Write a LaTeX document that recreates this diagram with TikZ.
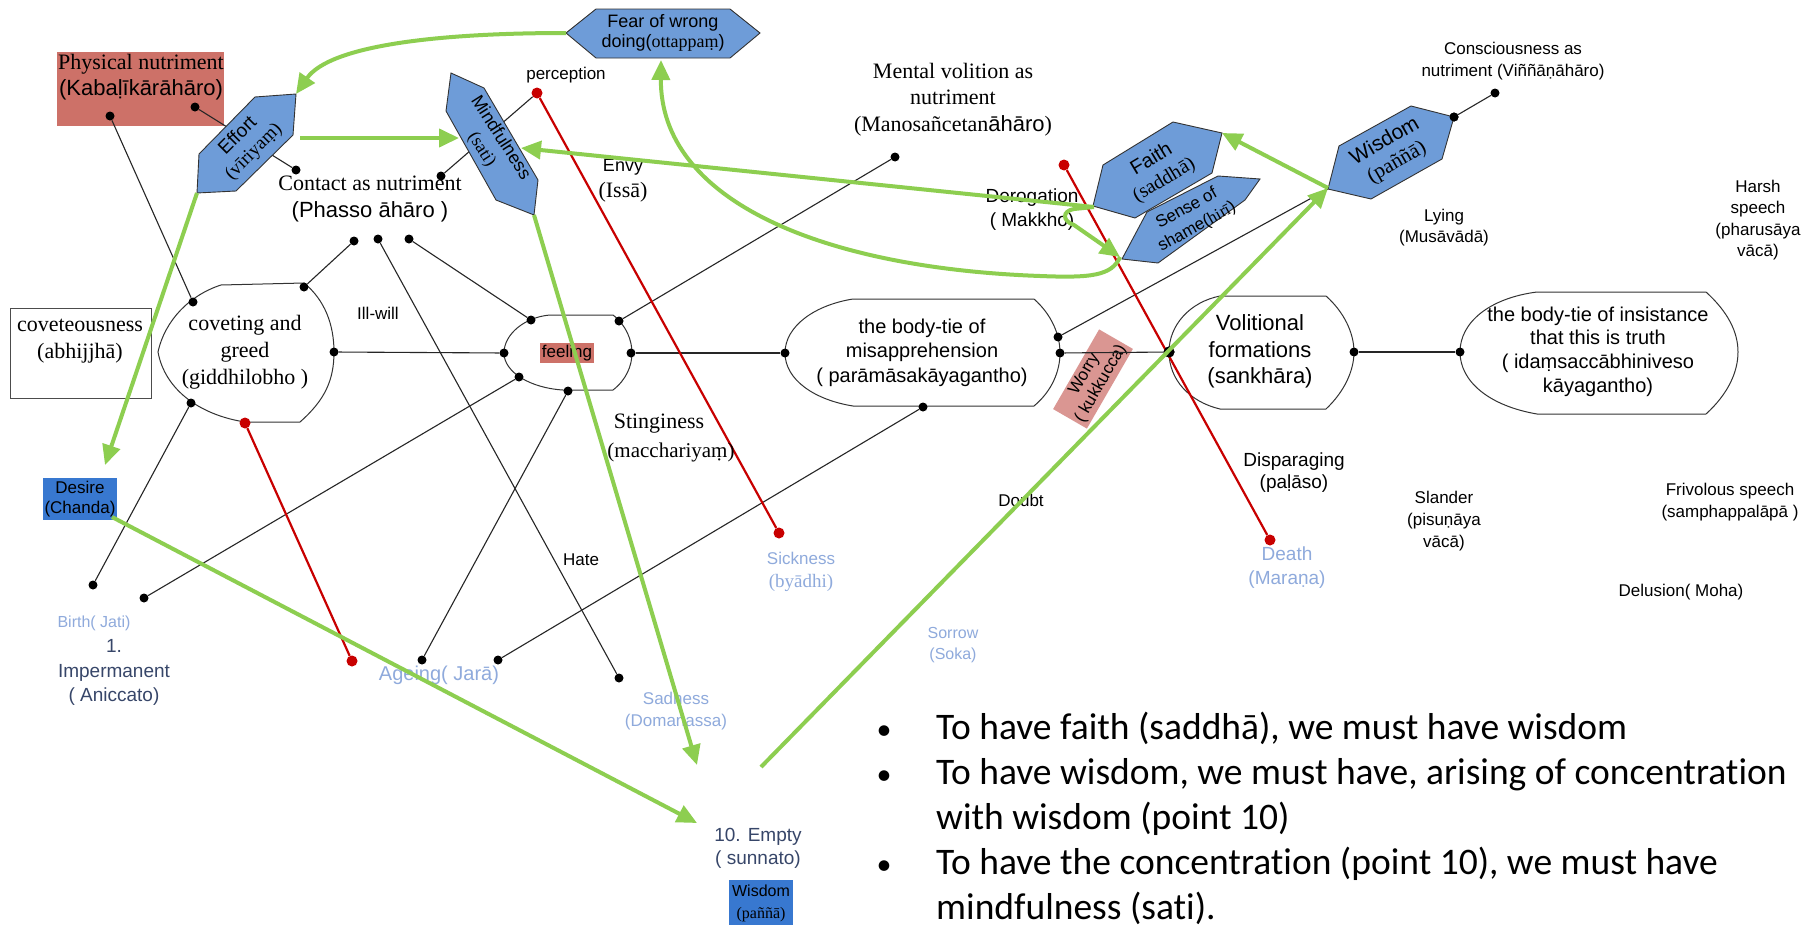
\documentclass[tikz,border=0pt]{standalone}
\usepackage{fontspec}
\setmainfont{Liberation Serif}
\setsansfont{Liberation Sans}
\newfontfamily\calfont[RawFeature=-liga]{Carlito}
\usetikzlibrary{arrows.meta}
\definecolor{hexblue}{RGB}{110,156,216}
\definecolor{salm}{RGB}{205,113,104}
\definecolor{worryc}{RGB}{218,150,146}
\definecolor{desblue}{RGB}{56,120,208}
\definecolor{greenc}{RGB}{141,206,80}
\definecolor{redc}{RGB}{200,0,0}
\definecolor{ltblue}{RGB}{143,170,220}
\definecolor{slate}{RGB}{55,70,105}
\newcommand{\sfz}[2]{\sffamily\fontsize{#1}{#2}\selectfont}
\newcommand{\rmz}[2]{\rmfamily\fontsize{#1}{#2}\selectfont}
\begin{document}
\begin{tikzpicture}[x=1pt,y=-1pt,
  lb/.style={inner sep=0pt, align=center},
  bdot/.style={circle, fill=black, inner sep=0pt, minimum size=9pt},
  rdotst/.style={circle, fill=redc, inner sep=0pt, minimum size=11pt},
  blk/.style={draw=black!85, line width=1.1pt},
  redl/.style={draw=redc, line width=2.2pt},
  grn/.style={draw=greenc, line width=4pt, -{Triangle[length=20pt,width=18pt]}},
  hexa/.style={draw=black!80, fill=hexblue, line width=0.9pt},
  shp/.style={draw=black!80, line width=1pt, fill=white}]
\useasboundingbox (0,0) rectangle (1816,926);
\fill[white] (0,0) rectangle (1816,926);

% ---------- boxes ----------
\fill[salm] (57,52) rectangle (224,126);
\draw[draw=black!70, line width=1pt] (10,308) rectangle (151,398);
\fill[desblue] (43,478) rectangle (117,520);
\fill[desblue] (729,880) rectangle (793,925);
\node[fill=worryc, rotate=60, minimum width=92pt, minimum height=39pt, inner sep=0pt, align=center, font={\sfz{17}{19}}] (worry) at (1093,379) {Worry\\( kukkucca)};

% ---------- shapes ----------
\draw[shp] (221,285) -- (304,283) .. controls (325,300) and (334,325) .. (334,352) .. controls (334,380) and (325,400) .. (300,422) -- (245,422) .. controls (200,415) and (165,390) .. (158,352) .. controls (165,320) and (190,295) .. (221,285);
\draw[shp] (550,315) -- (613,315) .. controls (626,325) and (632,340) .. (632,353) .. controls (632,366) and (626,380) .. (613,390) -- (563,390) .. controls (530,388) and (504,372) .. (504,353) .. controls (504,334) and (525,317) .. (550,315);
\draw[shp] (853,299) -- (1034,299) .. controls (1052,315) and (1060,335) .. (1060,353) .. controls (1060,371) and (1052,391) .. (1034,406) -- (853,406) .. controls (815,400) and (785,380) .. (785,353) .. controls (785,326) and (815,305) .. (853,299);
\draw[shp] (1220,296) -- (1326,296) .. controls (1344,312) and (1354,333) .. (1354,352) .. controls (1354,371) and (1344,392) .. (1326,409) -- (1220,409) .. controls (1190,402) and (1169,380) .. (1169,352) .. controls (1169,325) and (1190,302) .. (1220,296);
\draw[shp] (1537,292) -- (1706,292) .. controls (1728,312) and (1738,332) .. (1738,352) .. controls (1738,372) and (1728,394) .. (1706,414) -- (1537,414) .. controls (1490,406) and (1460,382) .. (1460,352) .. controls (1460,322) and (1490,298) .. (1537,292);
\node[fill=salm, inner xsep=1.5pt, inner ysep=2pt, font={\sfz{17}{19}}] (tfeel) at (567,353) {feeling};

% ---------- dots ----------
\node[bdot] (pd1) at (110,116) {};
\node[bdot] (pd2) at (195,107) {};
\node[bdot] (ed) at (296,170) {};
\node[bdot] (cd1) at (354,241) {};
\node[bdot] (cd2) at (378,239) {};
\node[bdot] (cd3) at (409,239) {};
\node[bdot] (md) at (441,176) {};
\node[bdot] (cv1) at (193,302) {};
\node[bdot] (cv2) at (304,287) {};
\node[bdot] (cv3) at (334,352) {};
\node[bdot] (cv4) at (191,403) {};
\node[bdot] (f1) at (531,320) {};
\node[bdot] (f2) at (504,353) {};
\node[bdot] (f3) at (519,377) {};
\node[bdot] (f4) at (568,391) {};
\node[bdot] (f5) at (619,321) {};
\node[bdot] (f6) at (631,353) {};
\node[bdot] (mv) at (895,157) {};
\node[bdot] (b1) at (785,353) {};
\node[bdot] (b2) at (1058,337) {};
\node[bdot] (b3) at (1060,353) {};
\node[bdot] (b4) at (923,407) {};
\node[bdot, minimum size=11pt] (v1) at (1169,352) {};
\node[bdot] (v2) at (1354,352) {};
\node[bdot] (i1) at (1460,352) {};
\node[bdot] (wd) at (1454,117) {};
\node[bdot] (cs) at (1495,93) {};
\node[bdot] (bd1) at (93,585) {};
\node[bdot] (bd2) at (144,598) {};
\node[bdot] (bd3) at (422,660) {};
\node[bdot] (bd4) at (498,660) {};
\node[bdot] (bd5) at (619,678) {};
\node[rdotst] (rp) at (537,93) {};
\node[rdotst] (cvr) at (245,423) {};
\node[rdotst] (rb) at (352,661) {};
\node[rdotst] (rs) at (779,533) {};
\node[rdotst] (rd) at (1064,165) {};
\node[rdotst] (rdeath) at (1270,540) {};
\coordinate (wisLV) at (1328,189);

% ---------- black lines ----------
\draw[blk] (pd1) -- (cv1);
\draw[blk] (pd2) -- (ed);
\draw[blk] (rp) -- (md);
\draw[blk] (cv2) -- (cd1);
\draw[blk] (cd2) -- (bd5);
\draw[blk] (cd3) -- (f1);
\draw[blk] (cv3) -- (f2);
\draw[blk] (cv4) -- (bd1);
\draw[blk] (f3) -- (bd2);
\draw[blk] (f4) -- (bd3);
\draw[blk] (f5) -- (mv);
\draw[blk] (f6) -- (b1);
\draw[blk] (b4) -- (bd4);
\draw[blk] (b2) -- (wisLV);
\draw[blk] (b3) -- (v1);
\draw[blk] (v2) -- (i1);
\draw[blk] (wd) -- (cs);

% ---------- red lines ----------
\draw[redl] (cvr) -- (rb);
\draw[redl] (rp) -- (rs);
\draw[redl] (rd) -- (rdeath);
\fill[black] (v1) circle (5.5pt);

% ---------- hexagons ----------
\draw[hexa] (566,33) -- (596,9) -- (730,9) -- (760,33) -- (730,58) -- (596,58) -- cycle;
\node[lb, font={\sfz{18}{20}}] (tfear) at (663,33) {Fear of wrong\\doing({\rmfamily ottappaṃ})};
\draw[hexa] (255,97) -- (296,94) -- (293,135) -- (236,191) -- (197,193) -- (199,154) -- cycle;
\node[lb, rotate=45, font={\sfz{19}{22}}] (teff) at (246,144) {Effort\\{\rmfamily (vīriyaṃ)}};
\draw[hexa] (451,73) -- (484,88) -- (538,180) -- (534,215) -- (496,200) -- (446,111) -- cycle;
\node[lb, rotate=-57.5, font={\sfz{18}{22}}] (tmind) at (491,144) {Mindfulness\\{\rmfamily (sati)}};
\draw[hexa] (1103,165) -- (1173,122) -- (1222,133) -- (1212,173) -- (1135,218) -- (1093,206) -- cycle;
\node[lb, rotate=31, font={\sfz{20}{24}}] (tfaith) at (1158,170) {Faith\\{\rmfamily (saddhā)}};
\draw[hexa] (1147,212) -- (1218,176) -- (1260,179) -- (1245,200) -- (1158,263) -- (1122,259) -- cycle;
\node[lb, rotate=29, font={\sfz{17}{21}}] (tshame) at (1192,218) {Sense of\\shame({\rmfamily hirī})};
\draw[hexa] (1411,106) -- (1454,117) -- (1442,159) -- (1371,199) -- (1328,189) -- (1339,146) -- cycle;
\node[lb, rotate=30, font={\sfz{21}{24}}] (twis) at (1391,152) {Wisdom\\{\rmfamily (paññā)}};
\fill[black] (wd) circle (4.5pt);

% ---------- labels ----------
\node[lb, font={\rmz{22}{26}}] (tphys) at (141,77) {Physical nutriment\\{\sffamily (Kabaḷīkārāhāro)}};
\node[lb, font={\rmz{22}{27}}] (tcovs) at (80,341.5) {coveteousness\\(abhijjhā)};
\node[lb, font={\sfz{17}{20}}] (tdes) at (80,499.5) {Desire\\(Chanda)};
\node[lb, font={\sfz{16}{22}}] (twbox) at (761,903) {Wisdom\\{\rmfamily (paññā)}};
\node[lb, font={\sfz{17}{20}}] (tperc) at (566,75) {perception};
\node[lb, font={\rmz{22}{27}}] (tcont) at (370,198.5) {Contact as nutriment\\{\sffamily (Phasso āhāro )}};
\node[lb, font={\sfz{18}{20}}] (tenvy) at (623,167) {Envy};
\node[lb, font={\rmz{22}{24}}] (tissa) at (623,192) {(Issā)};
\node[lb, font={\rmz{22}{26.5}}] (tmental) at (953,99.5) {Mental volition as\\nutriment\\(Manosañcetan{\sffamily āhāro})};
\node[lb, font={\sfz{17}{22}}] (tcons) at (1513,61) {Consciousness as\\nutriment (Viññāṇāhāro)};
\node[lb, font={\sfz{19}{24}}] (tderog) at (1032,210) {Derogation\\( Makkho)};
\node[lb, font={\sfz{17}{21}}] (tlying) at (1444,227.5) {Lying\\(Musāvādā)};
\node[lb, font={\sfz{17}{21.3}}] (tharsh) at (1758,220) {Harsh\\speech\\(pharusāya\\vācā)};
\node[lb, font={\sfz{17}{20}}] (tillw) at (378,313) {Ill-will};
\node[lb, font={\rmz{22}{27}}] (tcovg) at (245,352) {coveting and\\greed\\(giddhilobho )};
\node[lb, font={\sfz{20}{24.5}}] (tbody) at (922,352.5) {the body-tie of\\misapprehension\\( parāmāsakāyagantho)};
\node[lb, font={\sfz{22}{26.5}}] (tvol) at (1260,351.5) {Volitional\\formations\\(sankhāra)};
\node[lb, font={\sfz{20}{23.7}}] (tins) at (1598,351.5) {the body-tie of insistance\\that this is truth\\( idaṃsaccābhiniveso\\kāyagantho)};
\node[lb, font={\rmz{22}{26}}] (tsting) at (659,424) {Stinginess};
\node[lb, font={\rmz{21}{26}}] (tmacc) at (671,452) {(macchariyaṃ)};
\node[lb, font={\sfz{19}{22}}] (tdisp) at (1294,473) {Disparaging\\(paḷāso)};
\node[lb, font={\sfz{17}{20}}] (tdoubt) at (1021,500) {Doubt};
\node[lb, font={\sfz{17}{22}}] (tsland) at (1444,521) {Slander\\(pisuṇāya\\vācā)};
\node[lb, font={\sfz{17}{22}}] (tfriv) at (1730,502) {Frivolous speech\\(samphappalāpā )};
\node[lb, font={\sfz{17}{20}}] (thate) at (581,560) {Hate};
\node[lb, font={\sfz{17}{23}}, text=ltblue] (tsick) at (801,571.5) {Sickness\\{\rmz{19}{23}(byādhi)}};
\node[lb, font={\sfz{19}{24}}, text=ltblue] (tdeath) at (1287,568) {Death\\(Maraṇa)};
\node[lb, font={\sfz{17}{20}}] (tdelus) at (1681,592) {Delusion( Moha)};
\node[lb, font={\sfz{16}{20}}, text=ltblue] (tbirth) at (94,623) {Birth( Jati)};
\node[lb, font={\sfz{19}{24.5}}, text=slate] (timp) at (114,672.5) {1.\\Impermanent\\( Aniccato)};
\node[lb, font={\sfz{20}{24}}, text=ltblue] (tage) at (439,675) {Ageing( Jarā)};
\node[lb, font={\sfz{17}{22}}, text=ltblue] (tsad) at (676,711) {Sadness\\(Domanassa)};
\node[lb, font={\sfz{16}{21}}, text=ltblue] (tsor) at (953,645.5) {Sorrow\\(Soka)};
\node[lb, font={\sfz{19}{23}}, text=slate] (temp) at (758,848.5) {10. Empty\\( sunnato)};

% ---------- bullets ----------
\begin{scope}[every node/.style={inner sep=0pt, font={\calfont\fontsize{37.5}{45}\selectfont}}]
\node[anchor=base, font={\calfont\fontsize{30}{45}\selectfont}] (bb1) at (884,739) {•};
\node[anchor=base, font={\calfont\fontsize{30}{45}\selectfont}] (bb2) at (884,784) {•};
\node[anchor=base, font={\calfont\fontsize{30}{45}\selectfont}] (bb3) at (884,874) {•};
\node[anchor=base west] (bt1) at (936,739) {To have faith (saddhā), we must have wisdom};
\node[anchor=base west] (bt2) at (936,784) {To have wisdom, we must have, arising of concentration};
\node[anchor=base west] (bt3) at (936,829) {with wisdom (point 10)};
\node[anchor=base west] (bt4) at (936,874) {To have the concentration (point 10), we must have};
\node[anchor=base west] (bt5) at (936,919) {mindfulness (sati).};
\end{scope}

% ---------- green arrows ----------
\coordinate (fearL) at (566,33);
\coordinate (fearB) at (661,60);
\coordinate (effT) at (296,94);
\coordinate (effR) at (300,138);
\coordinate (effB) at (197,193);
\coordinate (mindL) at (459,138);
\coordinate (mindB) at (534,215);
\coordinate (mindR) at (521,148);
\coordinate (faithL) at (1094,207);
\coordinate (faithR) at (1222,133);
\coordinate (shameL) at (1120,257);
\coordinate (wisL) at (1328,188);
\coordinate (desTip) at (105,465);
\coordinate (desR) at (112,517);
\coordinate (empA) at (697,765);
\coordinate (empB) at (697,823);
\coordinate (empS) at (761,767);
\draw[grn] (fearL) .. controls (440,33) and (330,45) .. (effT);
\draw[grn] (effR) -- (mindL);
\draw[grn] (effB) -- (desTip);
\draw[grn] (mindB) -- (empA);
\draw[grn] (faithL) -- (mindR);
\draw[grn] (faithL) -- (1074,209) .. controls (1062,211) and (1062,221) .. (1074,225) -- (shameL);
\draw[grn] (shameL) .. controls (1112,276) and (1090,278) .. (1040,276) .. controls (820,268) and (660,200) .. (fearB);
\draw[grn] (desR) -- (empB);
\draw[grn] (empS) -- (wisL);
\draw[grn] (wisL) -- (faithR);
\end{tikzpicture}
\end{document}
